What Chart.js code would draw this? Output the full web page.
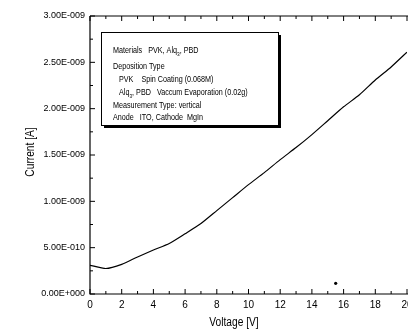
<!DOCTYPE html>
<html>
<head>
<meta charset="utf-8">
<script src="https://cdn.jsdelivr.net/npm/chart.js@4"></script>
<style>
  html, body { margin: 0; padding: 0; background: #fff; overflow: hidden; width: 408px; height: 331px; }
  #wrap { position: absolute; left: 0; top: 0; width: 420px; height: 331px; }
</style>
</head>
<body>
<div id="wrap"><canvas id="myChart" width="420" height="331"></canvas></div>
<script>
var voltage = [0, 1, 2, 3, 4, 5, 6, 7, 8, 9, 10, 11, 12, 13, 14, 15, 16, 17, 18, 19, 20];
var current = [3.1e-10, 2.75e-10, 3.2e-10, 4.0e-10, 4.75e-10, 5.45e-10, 6.5e-10, 7.6e-10, 9.0e-10, 1.04e-9, 1.18e-9,
               1.31e-9, 1.45e-9, 1.58e-9, 1.72e-9, 1.87e-9, 2.02e-9, 2.15e-9, 2.31e-9, 2.45e-9, 2.61e-9];
// stray speck on the scan
var speckX = [15.5];
var speckY = [1.15e-10];
var yTicks = [0, 5e-10, 1e-9, 1.5e-9, 2e-9, 2.5e-9, 3e-9];
var xTicks = [0, 2, 4, 6, 8, 10, 12, 14, 16, 18, 20];
var infoLines = [
  {text: 'Materials   PVK, Alq', sub: '3', rest: ', PBD', indent: 0, y: 51},
  {text: 'Deposition Type', sub: '', rest: '', indent: 0, y: 67},
  {text: 'PVK    Spin Coating (0.068M)', sub: '', rest: '', indent: 6, y: 80},
  {text: 'Alq', sub: '3', rest: ', PBD   Vaccum Evaporation (0.02g)', indent: 6, y: 93},
  {text: 'Measurement Type: vertical', sub: '', rest: '', indent: 0, y: 106},
  {text: 'Anode   ITO, Cathode  MgIn', sub: '', rest: '', indent: 0, y: 118}
];

var FONT = "'Liberation Sans', Arial, sans-serif";

function sciLabel(v) {
  if (v === 0) return '0.00E+000';
  var s = v.toExponential(2).split('e');
  var e = parseInt(s[1], 10);
  var es = String(Math.abs(e));
  while (es.length < 3) es = '0' + es;
  return s[0] + 'E' + (e < 0 ? '-' : '+') + es;
}

var pts = [];
for (var i = 0; i < voltage.length; i++) pts.push({x: voltage[i], y: current[i]});
var speck = [];
for (var j = 0; j < speckX.length; j++) speck.push({x: speckX[j], y: speckY[j]});

var frame = {
  id: 'frame',
  afterDraw: function(chart) {
    var ctx = chart.ctx, a = chart.chartArea;
    var xs = chart.scales.x, ys = chart.scales.y;
    ctx.save();
    ctx.strokeStyle = '#000';
    ctx.lineWidth = 1.2;
    ctx.beginPath();
    ctx.moveTo(a.left, a.top); ctx.lineTo(a.left, a.bottom); ctx.lineTo(chart.width, a.bottom);
    ctx.stroke();
    ctx.lineWidth = 1;
    ctx.beginPath();
    ctx.moveTo(a.left, a.top); ctx.lineTo(chart.width, a.top);
    ctx.stroke();
    // inward ticks
    ctx.beginPath();
    for (var v = 0; v <= 20; v++) {
      var px = xs.getPixelForValue(v);
      var len = v % 2 === 0 ? 5 : 3;
      ctx.moveTo(px, a.bottom); ctx.lineTo(px, a.bottom - len);
      ctx.moveTo(px, a.top); ctx.lineTo(px, a.top + len);
    }
    for (var k = 0; k <= 12; k++) {
      var py = ys.getPixelForValue(k * 2.5e-10);
      var l2 = k % 2 === 0 ? 5 : 3;
      ctx.moveTo(a.left, py); ctx.lineTo(a.left + l2, py);
    }
    ctx.stroke();

    // axis titles
    ctx.fillStyle = '#000';
    ctx.font = '12px ' + FONT;
    ctx.textAlign = 'center';
    ctx.textBaseline = 'middle';
    ctx.save();
    ctx.translate(234, 323);
    ctx.scale(0.85, 1);
    ctx.fillText('Voltage [V]', 0, 0);
    ctx.restore();
    ctx.save();
    ctx.translate(31, 152);
    ctx.rotate(-Math.PI / 2);
    ctx.scale(0.85, 1);
    ctx.fillText('Current [A]', 0, 0);
    ctx.restore();

    // info box with shadow
    var bx = 101, by = 32, bw = 177, bh = 93;
    ctx.fillRect(bx + 3, by + 3, bw, bh);
    ctx.fillStyle = '#fff';
    ctx.fillRect(bx, by, bw, bh);
    ctx.lineWidth = 1;
    ctx.strokeRect(bx + 0.5, by + 0.5, bw, bh);
    ctx.fillStyle = '#000';
    ctx.textAlign = 'left';
    ctx.textBaseline = 'middle';
    infoLines.forEach(function(ln) {
      ctx.save();
      ctx.translate(113 + ln.indent, ln.y);
      ctx.scale(0.8, 1);
      ctx.font = '9px ' + FONT;
      ctx.fillText(ln.text, 0, 0);
      var w = ctx.measureText(ln.text).width;
      if (ln.sub) {
        ctx.font = '6px ' + FONT;
        ctx.fillText(ln.sub, w, 3);
        w += ctx.measureText(ln.sub).width;
        ctx.font = '9px ' + FONT;
      }
      if (ln.rest) ctx.fillText(ln.rest, w, 0);
      ctx.restore();
    });
    ctx.restore();
  }
};

var ctx = document.getElementById('myChart').getContext('2d');
var myChart = new Chart(ctx, {
  type: 'scatter',
  data: {
    datasets: [{
      data: pts,
      showLine: true,
      borderColor: '#000',
      borderWidth: 1.2,
      pointRadius: 0,
      tension: 0.2
    }, {
      data: speck,
      showLine: false,
      pointRadius: 1.6,
      pointBackgroundColor: '#000',
      pointBorderWidth: 0
    }]
  },
  options: {
    responsive: false,
    animation: false,
    layout: { padding: { top: 16, right: 13, left: 0, bottom: 0 } },
    plugins: { legend: { display: false }, tooltip: { enabled: false } },
    scales: {
      x: {
        type: 'linear', min: 0, max: 20,
        grid: { display: false, drawTicks: false },
        border: { display: false },
        afterBuildTicks: function(s) { s.ticks = xTicks.map(function(v) { return {value: v}; }); },
        afterFit: function(s) { s.height = 37; },
        ticks: { color: '#000', padding: 5, maxRotation: 0, font: { family: FONT, size: 10 } }
      },
      y: {
        type: 'linear', min: 0, max: 3e-9,
        grid: { display: false, drawTicks: false },
        border: { display: false },
        afterBuildTicks: function(s) { s.ticks = yTicks.map(function(v) { return {value: v}; }); },
        afterFit: function(s) { s.width = 90; },
        ticks: { color: '#000', padding: 5, font: { family: FONT, size: 9 },
                 callback: function(v) { return sciLabel(v); } }
      }
    }
  },
  plugins: [frame]
});
</script>
</body>
</html>
